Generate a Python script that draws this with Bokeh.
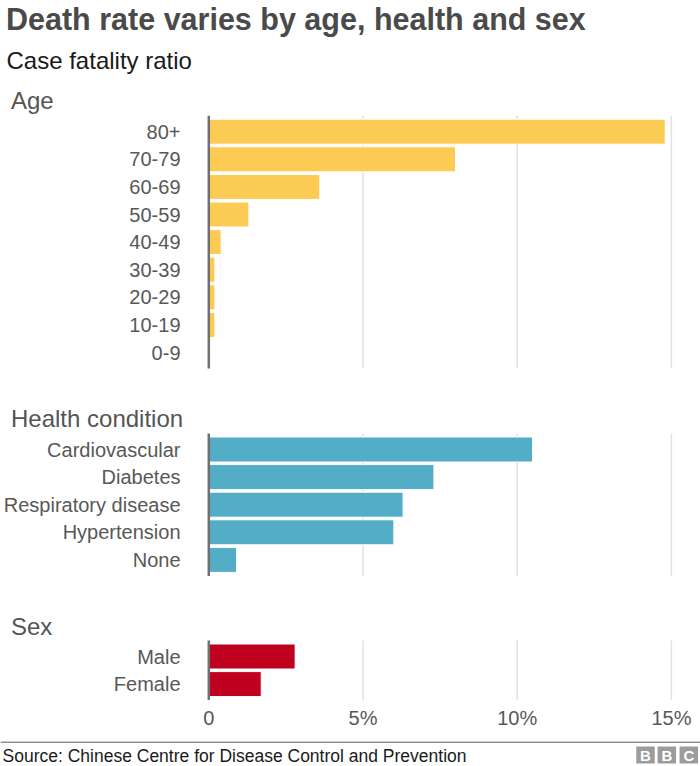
from bokeh.plotting import figure
from bokeh.models import Range1d
from bokeh.core.properties import value
from bokeh.embed import file_html
from bokeh.resources import INLINE

# ---------------- data ----------------
title = "Death rate varies by age, health and sex"
subtitle = "Case fatality ratio"
source_note = "Source: Chinese Centre for Disease Control and Prevention"

age_heading = "Age"
age_groups = ["80+", "70-79", "60-69", "50-59", "40-49", "30-39", "20-29", "10-19", "0-9"]
age_cfr = [14.8, 8.0, 3.6, 1.3, 0.4, 0.2, 0.2, 0.2, 0.0]

health_heading = "Health condition"
health_groups = ["Cardiovascular", "Diabetes", "Respiratory disease", "Hypertension", "None"]
health_cfr = [10.5, 7.3, 6.3, 6.0, 0.9]

sex_heading = "Sex"
sex_groups = ["Male", "Female"]
sex_cfr = [2.8, 1.7]

tick_values = [0, 5, 10, 15]
tick_labels = ["0", "5%", "10%", "15%"]

# ---------------- layout ----------------
W, H = 700, 766
PX_PER_PCT = 30.84
ZERO_X = 208.3
X0 = -ZERO_X / PX_PER_PCT
X1 = (W - ZERO_X) / PX_PER_PCT
PITCH = 27.6
FONT = value("Liberation Sans")


def px2x(px):
    return (px - ZERO_X) / PX_PER_PCT


p = figure(width=W, height=H, output_backend="svg", toolbar_location=None,
           x_range=Range1d(X0, X1), y_range=Range1d(H, 0),
           x_axis_type=None, y_axis_type=None, min_border=0,
           outline_line_color=None, tools="", background_fill_color="white",
           border_fill_color="white")

# header
p.text(x=[X0], y=[18], text=[title], x_offset=5.5, text_font=FONT,
       text_font_size=value("30.5px"), text_font_style="bold", text_color="#4a4a4a",
       text_baseline="middle", text_align="left")
p.text(x=[X0], y=[60], text=[subtitle], x_offset=6, text_font=FONT,
       text_font_size=value("24px"), text_color="#1a1a1a",
       text_baseline="middle", text_align="left")

groups = [
    (age_heading, 100, 131.2, age_groups, age_cfr, "#FCCB53"),
    (health_heading, 417.5, 449.0, health_groups, health_cfr, "#54ADC6"),
    (sex_heading, 625.5, 656.0, sex_groups, sex_cfr, "#BF001E"),
]

for heading, hmid, first, cats, vals, color in groups:
    ys = [first + i * PITCH for i in range(len(cats))]
    top = ys[0] - 16
    bot = ys[-1] + 16
    # grid lines
    gx = [t for t in tick_values if t > 0]
    p.segment(x0=gx, y0=[top] * len(gx), x1=gx, y1=[bot] * len(gx),
              line_color="#e2e2e2", line_width=1.5)
    # bars
    p.hbar(y=ys, left=0, right=vals, height=25, fill_color=color,
           line_color="white", line_width=1)
    # axis line
    p.segment(x0=[0], y0=[top], x1=[0], y1=[bot], line_color="#707070", line_width=2.5)
    # category labels
    p.text(x=[0] * len(cats), y=ys, text=cats, x_offset=-28.3, text_font=FONT,
           text_font_size=value("20px"), text_color="#585858",
           text_align="right", text_baseline="middle")
    # heading
    p.text(x=[X0], y=[hmid], text=[heading], x_offset=10.5, text_font=FONT,
           text_font_size=value("24px"), text_color="#555555",
           text_align="left", text_baseline="middle")

# x tick labels
p.text(x=tick_values, y=[717.5] * len(tick_values), text=tick_labels, text_font=FONT,
       text_font_size=value("20px"), text_color="#585858",
       text_align="center", text_baseline="middle")

# footer
p.segment(x0=[X0], y0=[741.7], x1=[X1], y1=[741.7], line_color="#5a5a5a", line_width=1)
p.text(x=[X0], y=[755], text=[source_note], x_offset=2, text_font=FONT,
       text_font_size=value("17.5px"), text_color="#1a1a1a",
       text_align="left", text_baseline="middle")

logo_px = [645, 666.3, 688.3]
logo_x = [px2x(v) for v in logo_px]
p.rect(x=logo_x, y=[754.5] * 3, width=18.5, height=17, width_units="screen",
       height_units="screen", fill_color="#9c9c9c", line_color=None)
p.text(x=logo_x, y=[755] * 3, text=["B", "B", "C"], text_font=FONT,
       text_font_size=value("15px"), text_font_style="bold", text_color="white",
       text_align="center", text_baseline="middle")

open("out.html", "w").write(file_html(p, INLINE))
